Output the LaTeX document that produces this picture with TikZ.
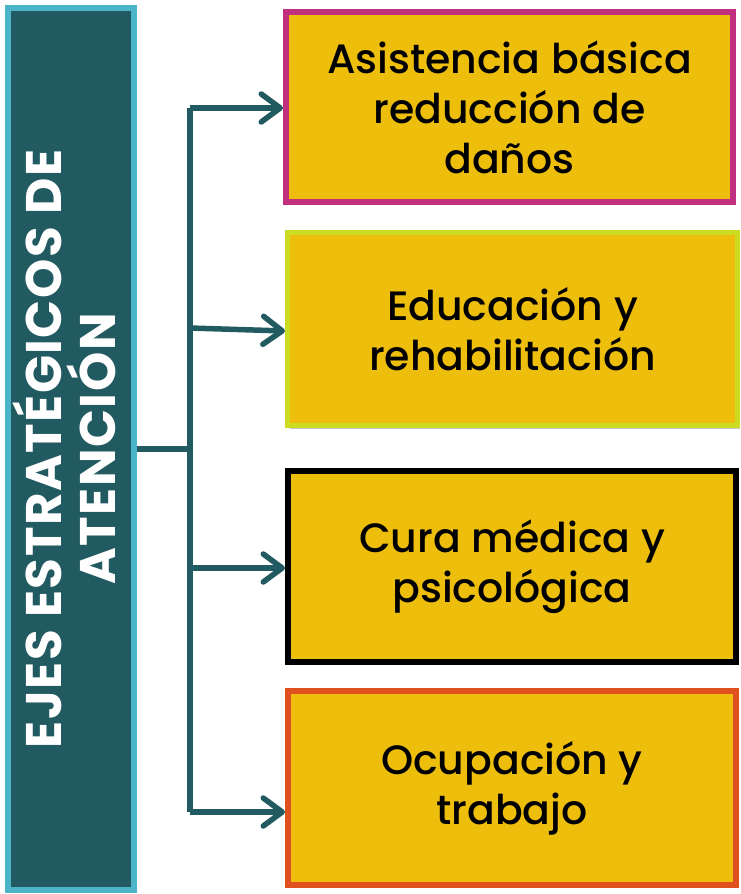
\documentclass[tikz,border=0pt]{standalone}
\usepackage{fontspec}
\setmainfont{Poppins}
\newfontfamily\itemfont{Poppins Medium}
\newfontfamily\headfont{Poppins}[LetterSpace=3]
\usetikzlibrary{arrows.meta,shadows}
\definecolor{teal}{HTML}{215A60}
\definecolor{cyanb}{HTML}{4BB4C8}
\definecolor{gold}{HTML}{EDBE0C}
\definecolor{mag}{HTML}{C0307F}
\definecolor{lime}{HTML}{CCDC22}
\definecolor{orng}{HTML}{E0501E}
\begin{document}
\begin{tikzpicture}[x=1pt,y=-1pt,
  sh/.style={drop shadow={shadow xshift=2pt,shadow yshift=-3pt,fill=black,opacity=0.22}},
  itembox/.style={sh,rectangle,fill=gold,line width=6pt,inner sep=0pt,
     align=center,text=black,font=\itemfont\fontsize{41}{50}\selectfont},
  conn/.style={draw=teal,line width=5.5pt},
  arr/.style={conn,-{Straight Barb[length=19pt,width=28pt,round]}}]
\useasboundingbox (0,0) rectangle (740,894);
% left box
\node[sh,rectangle,fill=teal,draw=cyanb,line width=6pt,minimum width=126pt,minimum height=882pt,inner sep=0pt] (main) at (71,449) {};
\node[rotate=90,text=white,align=center,font=\headfont\fontsize{50}{54}\selectfont\bfseries] (maintxt) at (64,449) {EJES ESTRATÉGICOS DE\\ATENCIÓN};
% right boxes
\node[itembox,draw=mag,minimum width=447pt,minimum height=190pt] (b1) at (509.5,107) {Asistencia básica\\reducción de\\daños};
\node[itembox,draw=lime,line width=5pt,minimum width=450pt,minimum height=193pt] (b2) at (512.5,329) {Educación y\\rehabilitación};
\node[itembox,draw=black,minimum width=448pt,minimum height=191pt] (b3) at (512,566.5) {Cura médica y\\psicológica};
\node[itembox,draw=orng,minimum width=448pt,minimum height=194pt] (b4) at (512,788) {Ocupación y\\trabajo};
% connectors
\coordinate (jm) at (190,449);
\coordinate (j1) at (190,108);
\coordinate (j2) at (190,328);
\coordinate (j3) at (190,568);
\coordinate (j4) at (190,812);
\draw[conn] (main.east |- jm) -- (jm);
\draw[conn,line cap=butt] (j1) -- (j4);
\draw[arr] (j1) -- (b1.west |- j1);
\draw[arr] (j2) -- ([yshift=-3pt]b2.west |- j2);
\draw[arr] (j3) -- (b3.west |- j3);
\draw[arr] (j4) -- (b4.west |- j4);
\end{tikzpicture}
\end{document}
